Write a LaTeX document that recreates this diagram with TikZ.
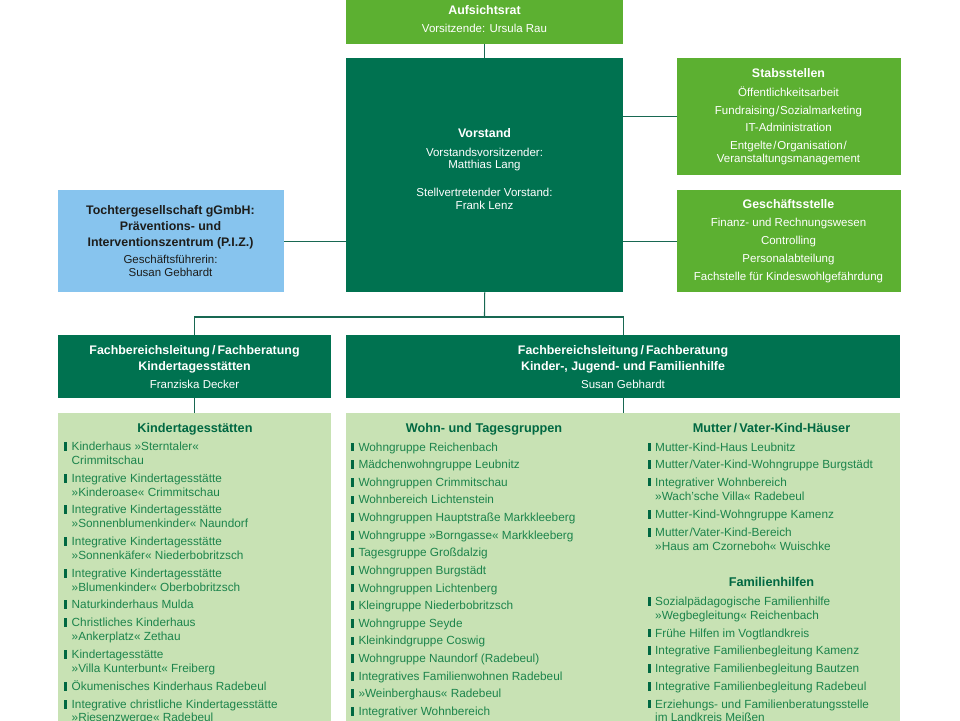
\documentclass[tikz,border=0pt]{standalone}
\usepackage{fontspec}
\setmainfont{Liberation Sans}
\definecolor{dkgreen}{RGB}{0,114,80}
\definecolor{ltgreen}{RGB}{92,176,49}
\definecolor{bggreen}{RGB}{200,226,180}
\definecolor{skyblue}{RGB}{135,196,238}
\definecolor{listtxt}{RGB}{28,132,76}
\definecolor{listttl}{RGB}{0,104,66}
\definecolor{connc}{RGB}{24,104,82}
\definecolor{darktxt}{RGB}{29,29,27}
\newcount\tcnt
\newcommand\tx[4]{\global\advance\tcnt by 1\relax\node[#1] (t\the\tcnt) at (#2,#3) {#4};}
\newcommand\litem[3]{\fill[listttl] (#1-7.5,#2+0.3) rectangle (#1-4.5,#2-8.4);\tx{li}{#1}{#2}{#3}}
\begin{document}
\begin{tikzpicture}[x=1pt,y=-1pt,
  box/.style={rectangle,draw=none,inner sep=0,anchor=north west},
  conn/.style={draw=connc,line width=1.1pt},
  wt/.style={white,font=\fontsize{11.5}{13}\selectfont,anchor=base,inner sep=0},
  wb/.style={white,font=\bfseries\fontsize{12.4}{14}\selectfont,anchor=base,inner sep=0},
  kt/.style={darktxt,font=\fontsize{11.5}{13}\selectfont,anchor=base,inner sep=0},
  kb/.style={darktxt,font=\bfseries\fontsize{12.4}{14}\selectfont,anchor=base,inner sep=0},
  li/.style={listtxt,font=\fontsize{11.8}{13}\selectfont,anchor=base west,inner sep=0},
  lt/.style={listttl,font=\bfseries\fontsize{12.7}{14}\selectfont,anchor=base,inner sep=0}]
\useasboundingbox (0,0) rectangle (960,720);
\clip (0,0) rectangle (960,720);
\fill[white] (0,0) rectangle (960,720);
% boxes
\node[box,fill=ltgreen,minimum width=277pt,minimum height=44pt] (auf) at (346,0) {};
\node[box,fill=dkgreen,minimum width=277pt,minimum height=234pt] (vor) at (346,58) {};
\node[box,fill=ltgreen,minimum width=224pt,minimum height=117pt] (stab) at (677,58) {};
\node[box,fill=ltgreen,minimum width=224pt,minimum height=102pt] (gesch) at (677,190) {};
\node[box,fill=skyblue,minimum width=226pt,minimum height=102pt] (toch) at (58,190) {};
\node[box,fill=dkgreen,minimum width=273pt,minimum height=63pt] (fbl) at (58,335) {};
\node[box,fill=dkgreen,minimum width=554pt,minimum height=63pt] (fbr) at (346,335) {};
\node[box,fill=bggreen,minimum width=273pt,minimum height=330pt] (kita) at (58,413) {};
\node[box,fill=bggreen,minimum width=554pt,minimum height=330pt] (kjf) at (346,413) {};
% connectors
\draw[conn] (auf.south) -- (vor.north);
\draw[conn] (stab.west) -- (stab.west -| vor.east);
\draw[conn] (gesch.west) -- (gesch.west -| vor.east);
\draw[conn] (toch.east) -- (toch.east -| vor.west);
\coordinate (j) at (484.5,317);
\draw[conn] (vor.south) -- (j);
\draw[conn] (fbl.north) |- (j) -| (fbr.north);
\draw[conn] (fbl.south) -- (kita.north);
\draw[conn] (fbr.south) -- (kjf.north);
% Aufsichtsrat
\tx{wb}{484.5}{14.5}{Aufsichtsrat}
\tx{wt}{484.5}{32.3}{Vorsitzende: Ursula Rau}
% Vorstand
\tx{wb}{484.5}{137}{Vorstand}
\tx{wt}{484.5}{156}{Vorstandsvorsitzender:}
\tx{wt}{484.5}{168.6}{Matthias Lang}
\tx{wt}{484.5}{196.5}{Stellvertretender Vorstand:}
\tx{wt}{484.5}{209}{Frank Lenz}
% Stabsstellen
\tx{wb}{788.5}{77.5}{Stabsstellen}
\tx{wt}{788.5}{96.3}{Öffentlichkeitsarbeit}
\tx{wt}{788.5}{114}{Fundraising\kern1pt/\kern1ptSozialmarketing}
\tx{wt}{788.5}{131.7}{IT-Administration}
\tx{wt}{788.5}{149.2}{Entgelte\kern1pt/\kern1ptOrganisation\kern1pt/}
\tx{wt}{788.5}{162.7}{Veranstaltungsmanagement}
% Geschaeftsstelle
\tx{wb}{788.5}{208}{Geschäftsstelle}
\tx{wt}{788.5}{226.6}{Finanz- und Rechnungswesen}
\tx{wt}{788.5}{244.6}{Controlling}
\tx{wt}{788.5}{262.2}{Personalabteilung}
\tx{wt}{788.5}{280.6}{Fachstelle für Kindeswohlgefährdung}
% Tochter
\tx{kb}{170.5}{214.5}{Tochtergesellschaft gGmbH:}
\tx{kb}{170.5}{230.3}{Präventions- und}
\tx{kb}{170.5}{246.2}{Interventionszentrum (P.I.Z.)}
\tx{kt}{170.5}{263.5}{Geschäftsführerin:}
\tx{kt}{170.5}{276.5}{Susan Gebhardt}
% Fachbereichsleitungen
\tx{wb}{194.5}{354.5}{Fachbereichsleitung\,/\,Fachberatung}
\tx{wb}{194.5}{370.5}{Kindertagesstätten}
\tx{wt}{194.5}{388.3}{Franziska Decker}
\tx{wb}{623}{354.5}{Fachbereichsleitung\,/\,Fachberatung}
\tx{wb}{623}{370.5}{Kinder-, Jugend- und Familienhilfe}
\tx{wt}{623}{388.3}{Susan Gebhardt}
% Kindertagesstaetten list
\tx{lt}{195}{432.6}{Kindertagesstätten}
\litem{71.5}{450.8}{Kinderhaus »Sterntaler«}
\tx{li}{71.5}{464.8}{Crimmitschau}
\litem{71.5}{482.8}{Integrative Kindertagesstätte}
\tx{li}{71.5}{496.3}{»Kinderoase« Crimmitschau}
\litem{71.5}{513.8}{Integrative Kindertagesstätte}
\tx{li}{71.5}{527.8}{»Sonnenblumenkinder« Naundorf}
\litem{71.5}{545.3}{Integrative Kindertagesstätte}
\tx{li}{71.5}{559.3}{»Sonnenkäfer« Niederbobritzsch}
\litem{71.5}{577.3}{Integrative Kindertagesstätte}
\tx{li}{71.5}{591}{»Blumenkinder« Oberbobritzsch}
\litem{71.5}{608.6}{Naturkinderhaus Mulda}
\litem{71.5}{626.6}{Christliches Kinderhaus}
\tx{li}{71.5}{640.3}{»Ankerplatz« Zethau}
\litem{71.5}{658.6}{Kindertagesstätte}
\tx{li}{71.5}{672}{»Villa Kunterbunt« Freiberg}
\litem{71.5}{690.3}{Ökumenisches Kinderhaus Radebeul}
\litem{71.5}{708.3}{Integrative christliche Kindertagesstätte}
\tx{li}{71.5}{721.8}{»Riesenzwerge« Radebeul}
% Wohn- und Tagesgruppen
\tx{lt}{484}{432.6}{Wohn- und Tagesgruppen}
\litem{358.3}{451.0}{Wohngruppe Reichenbach}
\litem{358.3}{468.6}{Mädchenwohngruppe Leubnitz}
\litem{358.3}{486.3}{Wohngruppen Crimmitschau}
\litem{358.3}{503.9}{Wohnbereich Lichtenstein}
\litem{358.3}{521.5}{Wohngruppen Hauptstraße Markkleeberg}
\litem{358.3}{539.2}{Wohngruppe »Borngasse« Markkleeberg}
\litem{358.3}{556.8}{Tagesgruppe Großdalzig}
\litem{358.3}{574.4}{Wohngruppen Burgstädt}
\litem{358.3}{592.0}{Wohngruppen Lichtenberg}
\litem{358.3}{609.7}{Kleingruppe Niederbobritzsch}
\litem{358.3}{627.3}{Wohngruppe Seyde}
\litem{358.3}{644.9}{Kleinkindgruppe Coswig}
\litem{358.3}{662.6}{Wohngruppe Naundorf (Radebeul)}
\litem{358.3}{680.2}{Integratives Familienwohnen Radebeul}
\litem{358.3}{697.8}{»Weinberghaus« Radebeul}
\litem{358.3}{715.5}{Integrativer Wohnbereich}
% Mutter/Vater-Kind-Haeuser
\tx{lt}{771.5}{432.6}{Mutter\,/\,Vater-Kind-Häuser}
\litem{655}{451.0}{Mutter-Kind-Haus Leubnitz}
\litem{655}{468.6}{Mutter\kern1pt/Vater-Kind-Wohngruppe Burgstädt}
\litem{655}{486.0}{Integrativer Wohnbereich}
\tx{li}{655}{500.8}{»Wach’sche Villa« Radebeul}
\litem{655}{518.8}{Mutter-Kind-Wohngruppe Kamenz}
\litem{655}{536.6}{Mutter\kern1pt/Vater-Kind-Bereich}
\tx{li}{655}{550.8}{»Haus am Czorneboh« Wuischke}
% Familienhilfen
\tx{lt}{771.5}{586.6}{Familienhilfen}
\litem{655}{605.8}{Sozialpädagogische Familienhilfe}
\tx{li}{655}{619.3}{»Wegbegleitung« Reichenbach}
\litem{655}{637.0}{Frühe Hilfen im Vogtlandkreis}
\litem{655}{654.6}{Integrative Familienbegleitung Kamenz}
\litem{655}{672.3}{Integrative Familienbegleitung Bautzen}
\litem{655}{690.3}{Integrative Familienbegleitung Radebeul}
\litem{655}{708.1}{Erziehungs- und Familienberatungsstelle}
\tx{li}{655}{721.8}{im Landkreis Meißen}
\end{tikzpicture}
\end{document}
